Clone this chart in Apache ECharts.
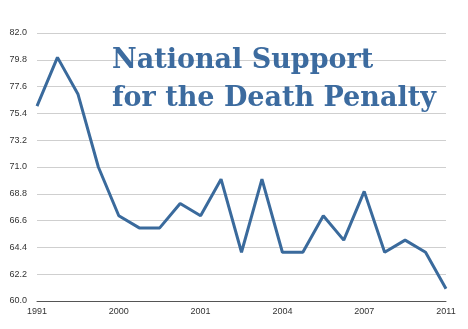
<!DOCTYPE html>
<html><head><meta charset="utf-8">
<script src="https://cdn.jsdelivr.net/npm/echarts@6/dist/echarts.min.js"></script>
<style>html,body{margin:0;padding:0;background:#fff}#c{width:468px;height:329px}</style>
</head><body><div id="c"></div>
<script>
const categories = ['1991','','','','2000','','','','2001','','','','2004','','','','2007','','','','2011'];
const support = [76, 80, 77, 71, 67, 66, 66, 68, 67, 70, 64, 70, 64, 64, 67, 65, 69, 64, 65, 64, 61];
const yMin = 60.0, yMax = 82.0, yStep = 2.2;
const titleText = 'National Support\nfor the Death Penalty';

const chart = echarts.init(document.getElementById('c'), null, {renderer: 'canvas'});
chart.setOption({
  animation: false,
  title: {
    text: titleText,
    left: 107, top: 37,
    textStyle: {fontFamily: 'DejaVu Serif', fontSize: 27, fontWeight: 'bold', color: '#3c6b9f', lineHeight: 38}
  },
  grid: {left: 37, right: 22, top: 33, bottom: 28},
  xAxis: {
    type: 'category', data: categories, boundaryGap: false,
    axisLine: {lineStyle: {color: '#555', width: 1}},
    axisTick: {show: false},
    axisLabel: {interval: 3, color: '#333', fontSize: 9, fontFamily: 'Liberation Sans', margin: 6},
    splitLine: {show: false}
  },
  yAxis: {
    type: 'value', min: yMin, max: yMax, interval: yStep,
    axisLine: {show: false}, axisTick: {show: false},
    axisLabel: {color: '#333', fontSize: 9, fontFamily: 'Liberation Sans', margin: 10,
      formatter: v => v.toFixed(1)},
    splitLine: {lineStyle: {color: '#cfcfcf', width: 1}}
  },
  series: [{
    type: 'line', data: support, symbol: 'none',
    lineStyle: {color: '#3a6a9c', width: 3}
  }]
});
</script></body></html>
